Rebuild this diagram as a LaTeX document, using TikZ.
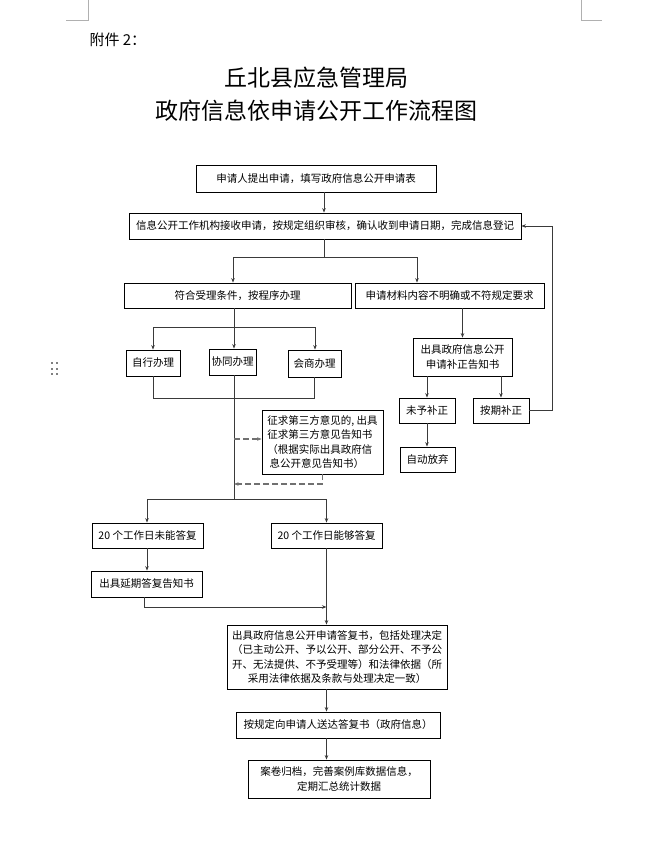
\documentclass[tikz,border=0pt]{standalone}
\usepackage{fontspec}
\setmainfont{Noto Sans CJK SC}
\usetikzlibrary{arrows.meta}
\definecolor{linegray}{HTML}{3A3A3A}
\definecolor{dashgray}{HTML}{707070}
\definecolor{markgray}{HTML}{B0B0B0}
\begin{document}
\begin{tikzpicture}[x=1pt,y=-1pt,
        box/.style={draw=black,line width=0.8pt,inner sep=0pt,align=center,
                font=\fontsize{10.5}{14.5}\selectfont},
        arr/.style={draw=linegray,line width=0.9pt,-{Stealth[length=4.5pt,width=3.5pt]}},
        link/.style={draw=linegray,line width=0.9pt},
        dasharr/.style={arr,draw=dashgray,line width=1.2pt,dash pattern=on 6pt off 3pt}]
        \useasboundingbox (0,0) rectangle (645,845);
        % page marks
        \draw[markgray,line width=0.6pt] (88,0) -- (88,20) -- (66,20);
        \draw[markgray,line width=0.6pt] (581,0) -- (581,20) -- (602,20);
        \foreach \x in {52,57}
        {
                \foreach \y in {363,369,374}
                        \fill[gray] (\x-1.3,\y-1.3) rectangle (\x+1.3,\y+1.3);
        }
        % heading
        \node[anchor=west,font=\fontsize{15}{15}\selectfont] (annex) at (86,40) {附件 2：};
        \node[font=\fontsize{23}{23}\selectfont] (title1) at (316.5,78) {丘北县应急管理局};
        \node[font=\fontsize{23}{23}\selectfont] (title2) at (316.5,111) {政府信息依申请公开工作流程图};
        % boxes
        \node[box,minimum width=240,minimum height=27] (apply) at (316,178.5) {申请人提出申请，填写政府信息公开申请表};
        \node[box,minimum width=392,minimum height=26] (receive) at (325,226) {信息公开工作机构接收申请，按规定组织审核，确认收到申请日期，完成信息登记};
        \node[box,minimum width=227,minimum height=25] (accept) at (237.5,295.5) {符合受理条件，按程序办理};
        \node[box,minimum width=189,minimum height=25] (unclear) at (449.5,295.5) {申请材料内容不明确或不符规定要求};
        \node[box,minimum width=54,minimum height=26] (self) at (153,363) {自行办理};
        \node[box,minimum width=47,minimum height=26] (coop) at (232.5,362) {协同办理};
        \node[box,minimum width=53,minimum height=27] (consult) at (314.5,363.5) {会商办理};
        \node[box,minimum width=99,minimum height=38] (fixnote) at (462.5,357) {出具政府信息公开\\申请补正告知书};
        \node[box,minimum width=56,minimum height=25] (nofix) at (427,410.5) {未予补正};
        \node[box,minimum width=56,minimum height=25] (fixed) at (501,410.5) {按期补正};
        \node[box,minimum width=55,minimum height=25] (giveup) at (427.5,459.5) {自动放弃};
        \node[box,minimum width=121,minimum height=64,align=left] (third) at (322.5,442)
                {征求第三方意见的, 出具\\征求第三方意见告知书\\（根据实际出具政府信\\\ 息公开意见告知书）};
        \node[box,minimum width=111,minimum height=25] (late) at (147.5,535.5) {20 个工作日未能答复};
        \node[box,minimum width=111,minimum height=25] (ontime) at (326.5,535.5) {20 个工作日能够答复};
        \node[box,minimum width=111,minimum height=26] (delay) at (146.5,584) {出具延期答复告知书};
        \node[box,minimum width=220,minimum height=64] (reply) at (337,657)
                {出具政府信息公开申请答复书，包括处理决定\\（已主动公开、予以公开、部分公开、不予公\\开、无法提供、不予受理等）和法律依据（所\\采用法律依据及条款与处理决定一致）};
        \node[box,minimum width=204,minimum height=26] (deliver) at (338,725) {按规定向申请人送达答复书（政府信息）};
        \node[box,minimum width=182,minimum height=38] (archive) at (339,779) {案卷归档，完善案例库数据信息，\\定期汇总统计数据};
        % junctions
        \coordinate (split1) at (324,257);
        \coordinate (split1l) at (233,257);
        \coordinate (split1r) at (417,257);
        \coordinate (split2) at (234,327);
        \coordinate (split2l) at (153,327);
        \coordinate (split2r) at (315,327);
        \coordinate (join1) at (234,398);
        \coordinate (back) at (234,484);
        \coordinate (split3) at (234,499);
        \coordinate (split3l) at (147,499);
        \coordinate (split3r) at (326.5,499);
        \coordinate (merge) at (326.5,607);
        \coordinate (loop) at (552,226);
        % connectors
        \draw[arr] (apply.south -| split1) -- (receive.north -| split1);
        \draw[link] (receive.south -| split1) -- (split1);
        \draw[link] (split1l) -- (split1r);
        \draw[arr] (split1l) -- (split1l |- accept.north);
        \draw[arr] (split1r) -- (split1r |- unclear.north);
        \draw[link] (accept.south -| split2) -- (split2);
        \draw[link] (split2l) -- (split2r);
        \draw[arr] (split2l) -- (self.north);
        \draw[arr] (split2) -- (split2 |- coop.north);
        \draw[arr] (split2r) -- (split2r |- consult.north);
        \draw[link] (self.south) |- (join1 -| consult.south) -- (consult.south);
        \draw[link] (coop.south -| split2) -- (split3);
        \draw[dasharr] (split2 |- 0,439) -- (third.west |- 0,439);
        \draw[dasharr] (third.south) |- (back);
        \draw[link] (split3l) -- (split3r);
        \draw[arr] (split3l) -- (split3l |- late.north);
        \draw[arr] (split3r) -- (ontime.north);
        \draw[arr] (late.south -| split3l) -- (delay.north -| split3l);
        \draw[arr] (delay.south -| 144,0) |- (merge);
        \draw[arr] (ontime.south) -- (reply.north -| ontime.south);
        \draw[arr] (reply.south -| merge) -- (deliver.north -| merge);
        \draw[arr] (deliver.south -| merge) -- (archive.north -| merge);
        \draw[arr] (unclear.south -| fixnote.north) -- (fixnote.north);
        \draw[arr] (fixnote.south -| nofix.north) -- (nofix.north);
        \draw[arr] (fixnote.south -| fixed.north) -- (fixed.north);
        \draw[arr] (nofix.south) -- (giveup.north -| nofix.south);
        \draw[arr] (fixed.east) -| (loop) -- (receive.east);
\end{tikzpicture}
\end{document}
